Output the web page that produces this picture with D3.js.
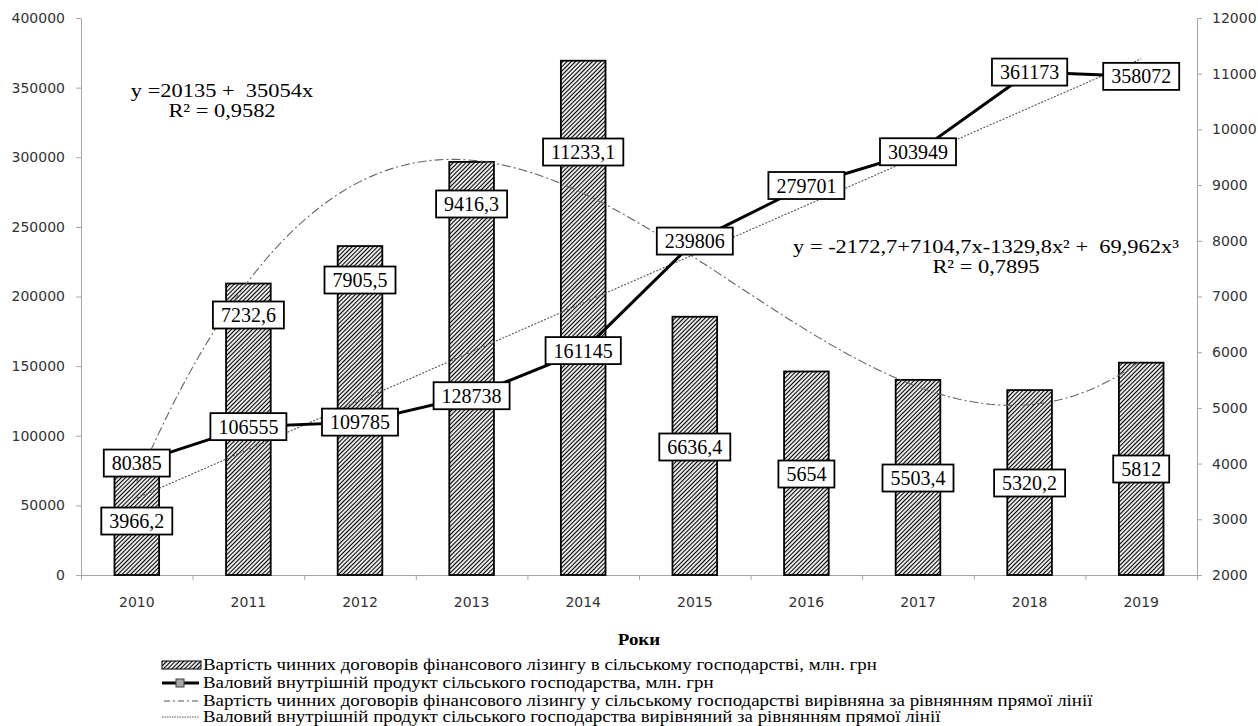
<!DOCTYPE html>
<html>
<head>
<meta charset="utf-8">
<script src="https://cdn.jsdelivr.net/npm/d3@7"></script>
<style>
	body { margin: 0; background: #fff; }
	svg { display: block; }
	.axis path, .axis line { stroke: #a6a6a6; }
	.axis text { font-family: 'DejaVu Sans', sans-serif; font-size: 14px; fill: #333; }
	.serif { font-family: 'Liberation Serif', 'Times New Roman', serif; white-space: pre; }
</style>
</head>
<body>
<svg id="chart" width="1258" height="726"></svg>
<script>
'use strict';

// Years on the category axis
var years = ['2010', '2011', '2012', '2013', '2014', '2015', '2016', '2017', '2018', '2019'];

// Leasing contracts in agriculture, mln UAH (bars, right axis)
var leaseValues = [3966.2, 7232.6, 7905.5, 9416.3, 11233.1, 6636.4, 5654, 5503.4, 5320.2, 5812];

// Agricultural GDP, mln UAH (line, left axis)
var gdpValues = [80385, 106555, 109785, 128738, 161145, 239806, 279701, 303949, 361173, 358072];

// Where the bar labels sit, in right axis units (placed by hand in the original)
var leaseLabelAt = [2969, 6668, 7296, 8661, 9594, 4298, 3813, 3741, 3652, 3903];

// Tick labels
var leftTicks = [0, 50000, 100000, 150000, 200000, 250000, 300000, 350000, 400000];
var rightTicks = [2000, 3000, 4000, 5000, 6000, 7000, 8000, 9000, 10000, 11000, 12000];

// Trend line coefficients, x = 1..10
var gdpTrendCoef = [20135, 35054];
var leaseTrendCoef = [-2172.7, 7104.7, -1329.8, 69.962];

var legendLabels = [
	'Вартість чинних договорів фінансового лізингу в сільському господарстві, млн. грн',
	'Валовий внутрішній продукт сільського господарства, млн. грн',
	'Вартість чинних договорів фінансового лізингу у сільському господарстві вирівняна за рівнянням прямої лінії',
	'Валовий внутрішній продукт сільського господарства вирівняний за рівнянням прямої лінії'
];


var svg = d3.select('#chart');
var plot_left = 81, plot_right = 1197, plot_top = 18, plot_bottom = 575;
var serif_stretch = 1.18; // the serif text of the original is drawn wider than Times

var x = d3.scaleBand().domain(years).range([plot_left, plot_right]).paddingInner(0.6).paddingOuter(0.3);
var x_idx = d3.scaleLinear().domain([0, years.length]).range([plot_left, plot_right]);
var x_trend = d3.scaleLinear().domain([1, years.length]).range([x('2010') + x.bandwidth() / 2, x('2019') + x.bandwidth() / 2]);
var y_left = d3.scaleLinear().domain([0, 400000]).range([plot_bottom, plot_top]);
var y_right = d3.scaleLinear().domain([2000, 12000]).range([plot_bottom, plot_top]);

function cx(i) { return x(years[i]) + x.bandwidth() / 2; }
function comma(v) { return String(v).replace('.', ','); }
function poly(coef, t) {
	var s = 0;
	for (var k = 0; k < coef.length; k += 1) { s += coef[k] * Math.pow(t, k); }
	return s;
}
function widen(sel, k) {
	sel.each(function() {
		var n = this.getComputedTextLength();
		d3.select(this).attr('textLength', n * k).attr('lengthAdjust', 'spacingAndGlyphs');
	});
}

// Hatch pattern for the bars
var defs = svg.append('defs');
var hatch = defs.append('pattern')
	.attr('id', 'hatch')
	.attr('patternUnits', 'userSpaceOnUse')
	.attr('width', 3)
	.attr('height', 3)
	.attr('patternTransform', 'rotate(45)');
hatch.append('rect').attr('width', 3).attr('height', 3).attr('fill', '#e8e8e8');
hatch.append('line')
	.attr('x1', 0).attr('y1', 0).attr('x2', 0).attr('y2', 3)
	.attr('stroke', '#000').attr('stroke-width', 2);

//===============================================================
// Axes
//===============================================================

svg.append('g')
	.attr('class', 'axis')
	.attr('transform', 'translate(' + plot_left + ',0)')
	.call(d3.axisLeft(y_left).tickValues(leftTicks).tickSize(5).tickSizeOuter(0).tickPadding(11).tickFormat(d3.format('d')));

svg.append('g')
	.attr('class', 'axis')
	.attr('transform', 'translate(' + plot_right + ',0)')
	.call(d3.axisRight(y_right).tickValues(rightTicks).tickSize(5).tickSizeOuter(0).tickPadding(10).tickFormat(d3.format('d')));

svg.append('g')
	.attr('class', 'axis')
	.attr('transform', 'translate(0,' + plot_bottom + ')')
	.call(d3.axisBottom(x_idx).ticks(years.length).tickSize(5).tickSizeOuter(0).tickFormat(''));

var x_axis = svg.append('g')
	.attr('class', 'axis')
	.attr('transform', 'translate(0,' + plot_bottom + ')')
	.call(d3.axisBottom(x).tickSize(0).tickPadding(22));
x_axis.select('.domain').remove();

svg.append('text')
	.attr('class', 'serif')
	.attr('x', (plot_left + plot_right) / 2)
	.attr('y', 645)
	.attr('text-anchor', 'middle')
	.attr('font-size', 16)
	.attr('font-weight', 'bold')
	.text('Роки')
	.call(widen, serif_stretch);

//===============================================================
// Bars, trend lines and the GDP line
//===============================================================

svg.selectAll('rect.bar')
	.data(leaseValues)
	.enter().append('rect')
	.attr('class', 'bar')
	.attr('x', function(d, i) { return x(years[i]); })
	.attr('y', function(d) { return y_right(d); })
	.attr('width', x.bandwidth())
	.attr('height', function(d) { return plot_bottom - y_right(d); })
	.attr('fill', 'url(#hatch)')
	.attr('stroke', '#000')
	.attr('stroke-width', 1.8);

var t_steps = d3.range(1, years.length + 0.001, 0.05);

svg.append('path')
	.datum(t_steps)
	.attr('fill', 'none')
	.attr('stroke', '#666')
	.attr('stroke-width', 1.1)
	.attr('stroke-dasharray', '9,3,2,3')
	.attr('d', d3.line()
		.x(function(t) { return x_trend(t); })
		.y(function(t) { return y_right(poly(leaseTrendCoef, t)); }));

svg.append('path')
	.datum([1, years.length])
	.attr('fill', 'none')
	.attr('stroke', '#555')
	.attr('stroke-width', 1.1)
	.attr('stroke-dasharray', '2,1.5')
	.attr('d', d3.line()
		.x(function(t) { return x_trend(t); })
		.y(function(t) { return y_left(poly(gdpTrendCoef, t)); }));

svg.append('path')
	.datum(gdpValues)
	.attr('fill', 'none')
	.attr('stroke', '#000')
	.attr('stroke-width', 3)
	.attr('d', d3.line()
		.x(function(d, i) { return cx(i); })
		.y(function(d) { return y_left(d); }));

svg.selectAll('rect.marker')
	.data(gdpValues)
	.enter().append('rect')
	.attr('class', 'marker')
	.attr('x', function(d, i) { return cx(i) - 4; })
	.attr('y', function(d) { return y_left(d) - 4; })
	.attr('width', 8)
	.attr('height', 8)
	.attr('fill', '#a6a6a6')
	.attr('stroke', '#404040');

//===============================================================
// Data labels in boxes
//===============================================================

function boxLabel(px, py, txt) {
	var g = svg.append('g');
	var box = g.append('rect');
	var t = g.append('text')
		.attr('class', 'serif')
		.attr('x', px)
		.attr('y', py + 7)
		.attr('text-anchor', 'middle')
		.attr('font-size', 20)
		.text(txt);
	var w = t.node().getComputedTextLength() + 16;
	box.attr('x', px - w / 2)
		.attr('y', py - 13.5)
		.attr('width', w)
		.attr('height', 27)
		.attr('fill', '#fff')
		.attr('stroke', '#000')
		.attr('stroke-width', 1.8);
}

leaseValues.forEach(function(v, i) {
	boxLabel(cx(i), y_right(leaseLabelAt[i]), comma(v));
});
gdpValues.forEach(function(v, i) {
	boxLabel(cx(i), y_left(v), String(v));
});

//===============================================================
// Trend equations
//===============================================================

function equation(px, py, lines) {
	lines.forEach(function(s, k) {
		svg.append('text')
			.attr('class', 'serif')
			.attr('x', px)
			.attr('y', py + k * 20)
			.attr('text-anchor', 'middle')
			.attr('font-size', 19)
			.text(s)
			.call(widen, serif_stretch);
	});
}
equation(222, 97, ['y =20135 +  35054x', 'R² = 0,9582']);
equation(986, 253, ['y = -2172,7+7104,7x-1329,8x² +  69,962x³', 'R² = 0,7895']);

//===============================================================
// Legend
//===============================================================

var legend_y = [665, 683, 701, 717];
var legend = svg.append('g');

legend.append('rect')
	.attr('x', 162).attr('y', legend_y[0] - 4)
	.attr('width', 39).attr('height', 8)
	.attr('fill', 'url(#hatch)')
	.attr('stroke', '#000').attr('stroke-width', 1);

legend.append('line')
	.attr('x1', 162).attr('x2', 199)
	.attr('y1', legend_y[1]).attr('y2', legend_y[1])
	.attr('stroke', '#000').attr('stroke-width', 3);
legend.append('rect')
	.attr('x', 176).attr('y', legend_y[1] - 4)
	.attr('width', 8).attr('height', 8)
	.attr('fill', '#a6a6a6').attr('stroke', '#404040');

legend.append('line')
	.attr('x1', 164).attr('x2', 198)
	.attr('y1', legend_y[2]).attr('y2', legend_y[2])
	.attr('stroke', '#555').attr('stroke-width', 1)
	.attr('stroke-dasharray', '6,3,2,3');

legend.append('line')
	.attr('x1', 162).attr('x2', 199)
	.attr('y1', legend_y[3]).attr('y2', legend_y[3])
	.attr('stroke', '#555').attr('stroke-width', 1)
	.attr('stroke-dasharray', '1.5,1');

legend.selectAll('text')
	.data(legendLabels)
	.enter().append('text')
	.attr('class', 'serif')
	.attr('x', 203)
	.attr('y', function(d, i) { return legend_y[i] + 5; })
	.attr('font-size', 16)
	.text(function(d) { return d; })
	.call(widen, serif_stretch);
</script>
</body>
</html>
